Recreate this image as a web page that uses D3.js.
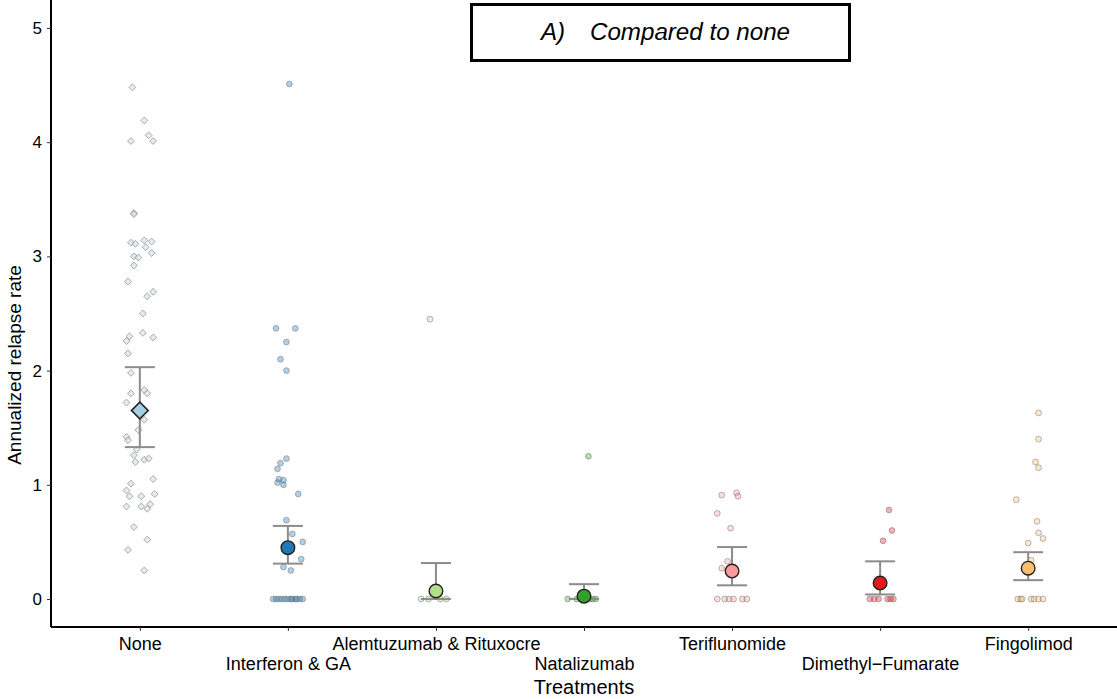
<!DOCTYPE html>
<html>
<head>
<meta charset="utf-8">
<script src="https://cdn.jsdelivr.net/npm/d3@7"></script>
<style>
  body { margin: 0; background: #fff; }
  text { font-family: "Liberation Sans", Arial, sans-serif; }
</style>
</head>
<body>
<div id="chart"></div>
<script>
// Treatments, in order along the x axis.
var treatments = ["None", "Interferon & GA", "Alemtuzumab & Rituxocre", "Natalizumab",
                  "Teriflunomide", "Dimethyl\u2212Fumarate", "Fingolimod"];

// Colours of each treatment (Paired palette).
var colors = ["#A6CEE3", "#1F78B4", "#B2DF8A", "#33A02C", "#FB9A99", "#E31A1C", "#FDBF6F"];

// Mean annualized relapse rate and its interval.
var means = [1.65, 0.45, 0.07, 0.025, 0.245, 0.14, 0.27];
var lower = [1.33, 0.31, 0.00, 0.00, 0.12, 0.04, 0.165];
var upper = [2.03, 0.64, 0.315, 0.13, 0.455, 0.33, 0.41];

// Individual patients: [value, jitter offset in category units].
var ptsNone = [[4.48,-0.05],[4.19,0.03],[4.06,0.06],[4.01,0.09],[4.01,-0.06],[3.38,-0.04],[3.37,-0.04],
  [3.12,-0.06],[3.11,-0.03],[3.14,0.03],[3.13,0.08],[3.08,0.04],[3.03,0.08],[3.00,-0.04],[2.99,-0.01],
  [2.92,-0.04],[2.78,-0.08],[2.69,0.09],[2.65,0.05],[2.50,0.02],[2.33,0.02],[2.30,-0.07],[2.26,-0.09],
  [2.29,0.09],[2.15,-0.08],[1.98,-0.06],[1.80,-0.06],[1.83,0.03],[1.80,0.05],[1.72,-0.09],[1.57,0.03],
  [1.48,-0.01],[1.42,-0.09],[1.39,-0.08],[1.31,-0.02],[1.26,-0.04],[1.20,-0.03],[1.22,0.03],[1.23,0.06],
  [1.05,0.09],[1.01,-0.06],[0.95,-0.09],[0.90,-0.07],[0.90,0.01],[0.92,0.10],[0.81,-0.09],[0.81,0.01],
  [0.83,0.07],[0.79,0.05],[0.63,-0.04],[0.52,0.05],[0.43,-0.08],[0.25,0.03]];
var ptsInterferon = [[4.51,0.01],[2.37,-0.08],[2.37,0.05],[2.25,-0.01],[2.10,-0.05],[2.00,-0.01],
  [1.23,-0.01],[1.19,-0.05],[1.14,-0.07],[1.05,-0.06],[1.04,-0.03],[1.02,-0.07],[1.00,-0.03],[0.92,0.07],
  [0.69,-0.01],[0.57,0.03],[0.50,0.10],[0.35,0.09],[0.28,-0.03],[0.25,0.02],
  [0,-0.10],[0,-0.08],[0,-0.06],[0,-0.04],[0,-0.02],[0,0.0],[0,0.02],[0,0.03],[0,0.05],[0,0.06],
  [0,0.08],[0,0.10]];
var ptsAlemtuzumab = [[2.45,-0.04],[0,-0.10],[0,-0.05],[0,0.03],[0,0.07]];
var ptsNatalizumab = [[1.25,0.03],[0,-0.11],[0,-0.05],[0,0.0],[0,0.04],[0,0.06],[0,0.08]];
var ptsTeriflunomide = [[0.91,-0.07],[0.93,0.03],[0.90,0.04],[0.75,-0.10],[0.62,-0.01],[0.33,-0.03],
  [0.27,-0.07],[0,-0.10],[0,-0.05],[0,-0.02],[0,0.01],[0,0.07],[0,0.10]];
var ptsDimethyl = [[0.78,0.06],[0.60,0.08],[0.51,0.02],[0,-0.07],[0,-0.04],[0,-0.01],[0,0.05],[0,0.07],[0,0.09]];
var ptsFingolimod = [[1.63,0.07],[1.40,0.07],[1.20,0.05],[1.15,0.07],[0.87,-0.08],[0.68,0.06],
  [0.58,0.07],[0.53,0.10],[0.49,0.0],[0.34,0.02],[0,-0.07],[0,-0.05],[0,-0.04],[0,0.02],[0,0.04],
  [0,0.07],[0,0.10]];
var points = [ptsNone, ptsInterferon, ptsAlemtuzumab, ptsNatalizumab, ptsTeriflunomide, ptsDimethyl, ptsFingolimod];

var yTicks = [0, 1, 2, 3, 4, 5];

var W = 1117, H = 699;
var margin = {left: 51, right: 0, top: 0, bottom: 72};
var width = W - margin.left - margin.right,
    height = H - margin.top - margin.bottom;

var svg = d3.select("#chart").append("svg")
    .attr("width", W).attr("height", H);

var g = svg.append("g")
    .attr("transform", "translate(" + margin.left + "," + margin.top + ")");

// Discrete x scale, with ggplot style expansion of 0.6 on each side.
var x = d3.scaleLinear()
    .domain([-0.6, treatments.length - 1 + 0.6])
    .range([0, width]);

var y = d3.scaleLinear()
    .domain([-0.245, 5.245])
    .range([height, 0]);

// Jittered patient points.
points.forEach(function(pts, i){
    var grp = g.append("g");
    pts.forEach(function(p){
        var cx = x(i + p[1]), cy = y(p[0]);
        if (i == 0) {
            grp.append("path")
                .attr("d", d3.symbol().type(d3.symbolDiamond2).size(30)())
                .attr("transform", "translate(" + cx + "," + cy + ")")
                .attr("fill", "#d6dde2")
                .attr("fill-opacity", 0.6)
                .attr("stroke", "#6f7a80")
                .attr("stroke-opacity", 0.6)
                .attr("stroke-width", 1);
        } else {
            grp.append("circle")
                .attr("cx", cx).attr("cy", cy).attr("r", 2.9)
                .attr("fill", colors[i])
                .attr("fill-opacity", 0.35)
                .attr("stroke", "#6f6f6f")
                .attr("stroke-opacity", 0.5)
                .attr("stroke-width", 1);
        }
    });
});

// Error bars.
treatments.forEach(function(t, i){
    var cx = x(i), capW = 15;
    g.append("line")
        .attr("x1", cx).attr("x2", cx)
        .attr("y1", y(lower[i])).attr("y2", y(upper[i]))
        .attr("stroke", "#8c8c8c").attr("stroke-width", 2);
    [lower[i], upper[i]].forEach(function(v){
        g.append("line")
            .attr("x1", cx - capW).attr("x2", cx + capW)
            .attr("y1", y(v)).attr("y2", y(v))
            .attr("stroke", "#8c8c8c").attr("stroke-width", 2);
    });
});

// Mean markers.
treatments.forEach(function(t, i){
    var cx = x(i), cy = y(means[i]);
    if (i == 0) {
        g.append("path")
            .attr("d", d3.symbol().type(d3.symbolSquare).size(140)())
            .attr("transform", "translate(" + cx + "," + cy + ") rotate(45)")
            .attr("fill", colors[i])
            .attr("stroke", "#222").attr("stroke-width", 1.6);
    } else {
        g.append("circle")
            .attr("cx", cx).attr("cy", cy).attr("r", 6.8)
            .attr("fill", colors[i])
            .attr("stroke", "#222").attr("stroke-width", 1.4);
    }
});

// Y axis.
var yAxis = d3.axisLeft(y).tickValues(yTicks).tickSize(4).tickPadding(5).tickFormat(d3.format("d"));
var yG = g.append("g").call(yAxis);
yG.select(".domain").attr("d", "M0,0V" + height).attr("stroke", "#000").attr("stroke-width", 2);
yG.selectAll(".tick line").attr("stroke", "#333");
yG.selectAll(".tick text").attr("font-size", "17px").attr("fill", "#000")
    .style("font-family", "'Liberation Sans', Arial, sans-serif");

// X axis, tick labels alternate between two rows.
var xAxis = d3.axisBottom(x).tickValues(d3.range(treatments.length)).tickSize(4)
    .tickFormat(function(d){ return treatments[d]; });
var xG = g.append("g").attr("transform", "translate(0," + height + ")").call(xAxis);
xG.select(".domain").attr("d", "M0,0H" + width).attr("stroke", "#000").attr("stroke-width", 2);
xG.selectAll(".tick line").attr("stroke", "#333");
xG.selectAll(".tick text")
    .attr("font-size", "18px").attr("fill", "#000")
    .style("font-family", "'Liberation Sans', Arial, sans-serif")
    .attr("dy", null)
    .attr("y", function(d){ return d % 2 == 0 ? 23 : 43; });

// Axis titles.
svg.append("text")
    .attr("x", margin.left + width / 2).attr("y", 694)
    .attr("text-anchor", "middle").attr("font-size", "20px")
    .text("Treatments");

svg.append("text")
    .attr("transform", "translate(21,365) rotate(-90)")
    .attr("text-anchor", "middle").attr("font-size", "19px")
    .text("Annualized relapse rate");

// Boxed title.
svg.append("rect")
    .attr("x", 471.5).attr("y", 4.5).attr("width", 378).attr("height", 56)
    .attr("fill", "#fff").attr("stroke", "#000").attr("stroke-width", 3);
var title = svg.append("g")
    .attr("transform", "translate(541,40) scale(1.05,1)")
    .style("font-family", "Lato, 'Open Sans', sans-serif")
    .style("font-style", "italic")
    .attr("font-size", "23px");
title.append("text").attr("x", 0).text("A)");
title.append("text").attr("x", 49 / 1.05).text("Compared to none");
</script>
</body>
</html>
